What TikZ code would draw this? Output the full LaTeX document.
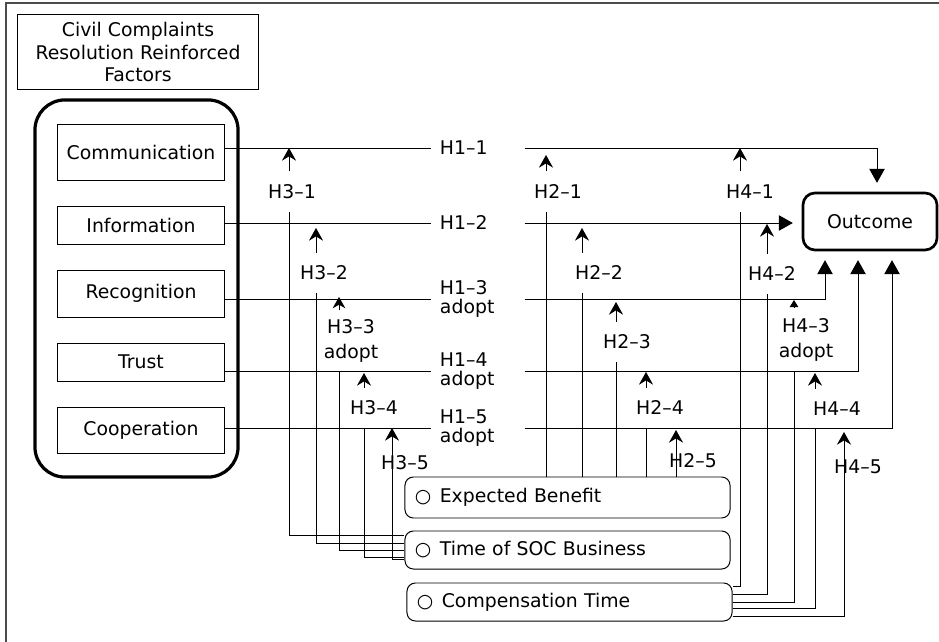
\documentclass[tikz,border=0pt]{standalone}
\usepackage{fontspec}
\setmainfont[Ligatures=TeX]{DejaVu Sans}
\usepackage{tikz}
\usetikzlibrary{arrows.meta,positioning,calc}

\newcommand{\diafont}{\fontsize{13.4pt}{15.7pt}\selectfont}

\begin{document}
\begin{tikzpicture}[
  x=0.025cm, y=-0.025cm, line width=0.7pt,
  every node/.style={font=\diafont},
  factor/.style={draw, minimum width=4.15cm, inner sep=0pt},
  measure/.style={draw, rounded corners=6pt, text width=7.625cm, inner xsep=0.25cm, inner ysep=0pt, minimum height=0.95cm, align=left},
  hlab/.style={text width=1.875cm, inner xsep=0.225cm, inner ysep=0pt, align=left},
  modlab/.style={inner sep=0pt, minimum height=1cm, align=center},
  modtip/.style={-{Stealth[length=9pt,width=10pt,inset=3pt]}},
  outtip/.style={-{Triangle[length=10pt,width=11pt]}, shorten >=0.22cm}
]
\useasboundingbox (0,0) rectangle (939,642);
\draw[line width=1pt, black!70] (6,642) -- (6,3) -- (939,3);

% factor side
\node[draw, minimum width=6cm, minimum height=1.85cm, inner sep=0pt, align=center] (title) at (138,52) {Civil Complaints\\Resolution Reinforced\\Factors};
\node[draw, line width=2.3pt, rounded corners=0.75cm, minimum width=5.075cm, minimum height=9.425cm] (group) at (136.5,288.5) {};
\node[factor, minimum height=1.375cm] (comm) at (141,152.5) {Communication};
\node[factor, minimum height=0.95cm] (info) at (141,225) {Information};
\node[factor, minimum height=1.175cm] (recog) at (141,293.5) {Recognition};
\node[factor, minimum height=0.95cm] (trust) at (141,362) {Trust};
\node[factor, minimum height=1.15cm] (coop) at (141,430) {Cooperation};

\node[draw, line width=1.9pt, rounded corners=0.3cm, minimum width=3.35cm, minimum height=1.425cm, inner sep=0pt] (outcome) at (870,221.5) {Outcome};

% moderators
\node[measure, minimum height=1.025cm] (benefit) at (567.5,497.5) {○\hspace{6pt}Expected Benefit};
\node[measure] (soc) at (567.5,550) {○\hspace{6pt}Time of SOC Business};
\node[measure] (comp) at (569.5,602) {○\hspace{6pt}Compensation Time};

% main paths
\node[hlab] (h11) at (477.5,148) {H1--1};
\node[hlab] (h12) at (477.5,223) {H1--2};
\node[hlab] (h13) at (477.5,299) {H1--3\\[-2pt]adopt};
\node[hlab] (h14) at (477.5,371) {H1--4\\[-2pt]adopt};
\node[hlab] (h15) at (477.5,428) {H1--5\\[-2pt]adopt};

\draw (comm.east |- h11) -- (h11.west);
\draw[outtip] (h11.east) -| ($(outcome.north)+(7,0)$);
\draw (info.east |- h12) -- (h12.west);
\draw[outtip] (h12.east) -- (h12.east -| outcome.west);
\draw (recog.east |- h13) -- (h13.west);
\draw[outtip] (h13.east) -| ($(outcome.south)+(-45,0)$);
\draw (trust.east |- h14) -- (h14.west);
\draw[outtip] (h14.east) -| ($(outcome.south)+(-12,0)$);
\draw (coop.east |- h15) -- (h15.west);
\draw[outtip] (h15.east) -| ($(outcome.south)+(22,0)$);

% H3: time of SOC business
\node[modlab] (h31) at (292,192) {H3--1};
\node[modlab] (h32) at (324,273) {H3--2};
\node[modlab] (h33) at (351,341) {H3--3\\[2.7pt]adopt};
\node[modlab] (h34) at (374,408) {H3--4};
\node[modlab] (h35) at (405,463) {H3--5};
\coordinate (m31) at (289,148);
\coordinate (m32) at (316,228);
\coordinate (m33) at (339,297);
\coordinate (m34) at (364,373);
\coordinate (m35) at (392,428);
\draw[modtip] (m31 |- h31.north) -- (m31);
\draw (m31 |- h31.south) |- ($(soc.west)+(0,-15)$);
\draw[modtip] (m32 |- h32.north) -- (m32);
\draw (m32 |- h32.south) |- ($(soc.west)+(0,-7)$);
\draw[-{Stealth[length=8pt,width=9pt,inset=2.5pt]}, shorten <=0.22cm] (m33 |- h33.north) -- (m33);
\draw (m33 |- h14) |- (soc.west);
\draw[modtip] (m34 |- h34.north) -- (m34);
\draw (m34 |- h34.south) |- ($(soc.west)+(0,7)$);
\draw[modtip] ($(soc.west)+(0,9)$) -| (m35);

% H2: expected benefit
\node[modlab] (h21) at (558,192) {H2--1};
\node[modlab] (h22) at (599,273) {H2--2};
\node[modlab] (h23) at (627,342) {H2--3};
\node[modlab] (h24) at (660,408) {H2--4};
\node[modlab] (h25) at (693,461) {H2--5};
\coordinate (m21) at (546,155);
\coordinate (m22) at (582,228);
\coordinate (m23) at (616,302);
\coordinate (m24) at (646,372);
\coordinate (m25) at (676,430);
\draw[modtip] (m21 |- h21.north) -- (m21);
\draw (m21 |- h21.south) -- (m21 |- benefit.north);
\draw[modtip] (m22 |- h22.north) -- (m22);
\draw (m22 |- h22.south) -- (m22 |- benefit.north);
\draw[modtip] (m23 |- h23.north) -- (m23);
\draw (m23 |- h23.south) -- (m23 |- benefit.north);
\draw[modtip] (m24 |- h24.north) -- (m24);
\draw (m24 |- h24.south) -- (m24 |- benefit.north);
\draw[modtip] (m25 |- benefit.north) -- (m25);

% H4: compensation time
\node[modlab] (h41) at (750,192) {H4--1};
\node[modlab] (h42) at (772,274) {H4--2};
\node[modlab] (h43) at (806,340) {H4--3\\[2.7pt]adopt};
\node[modlab] (h44) at (837,409) {H4--4};
\node[modlab] (h45) at (858,467) {H4--5};
\coordinate (m41) at (740,148);
\coordinate (m42) at (767,224);
\coordinate (m43) at (794,300);
\coordinate (m44) at (815,373);
\coordinate (m45) at (844,432);
\draw[modtip] (m41 |- h41.north) -- (m41);
\draw (m41 |- h41.south) |- ($(comp.east)+(0,-16)$);
\draw[modtip] (m42 |- h42.north) -- (m42);
\draw (m42 |- h42.south) |- ($(comp.east)+(0,-8)$);
\draw[-{Triangle[length=5pt,width=6pt]}, shorten <=0.25cm] (m43 |- h43.north) -- (m43);
\draw (m43 |- h14) |- (comp.east);
\draw[modtip] (m44 |- h44.north) -- (m44);
\draw (m44 |- h44.south) |- ($(comp.east)+(0,6)$);
\draw[modtip] ($(comp.east)+(0,14)$) -| (m45);
\end{tikzpicture}
\end{document}
